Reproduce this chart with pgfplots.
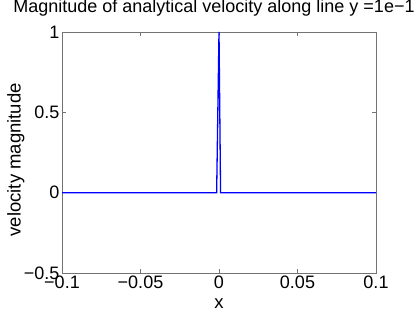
\documentclass[border=0pt]{standalone}
\usepackage{fontspec}
\setmainfont{Liberation Sans}
\usepackage{pgfplots}
\pgfplotsset{compat=1.18}
\definecolor{framegray}{gray}{0.45}

\begin{document}
\begin{tikzpicture}
\useasboundingbox (0,0) rectangle (415pt,313pt);
\begin{axis}[
    at={(62pt,40pt)}, anchor=south west,
    scale only axis,
    width=314pt, height=241pt,
    xmin=-0.1, xmax=0.1,
    ymin=-0.5, ymax=1,
    xtick={-0.1,-0.05,0,0.05,0.1},
    xticklabels={−0.1,−0.05,0,0.05,0.1},
    ytick={-0.5,0,0.5,1},
    yticklabels={−0.5,0,0.5,1},
    tick align=inside,
    major tick length=4pt,
    axis line style={framegray, line width=0.7pt},
    every tick/.style={framegray, line width=0.7pt},
    tick label style={font=\fontsize{18}{20}\selectfont},
    xticklabel style={yshift=1pt},
    yticklabel style={xshift=1pt},
    label style={font=\fontsize{18.5}{20}\selectfont},
    xlabel={x},
    ylabel={velocity magnitude},
    xlabel style={at={(axis description cs:0.5,-0.1286)}, anchor=center},
    ylabel style={at={(axis description cs:-0.147,0.47)}, anchor=center},
    title={Magnitude of analytical velocity along line y =1e−10},
    title style={font=\fontsize{18}{20}\selectfont, at={(axis description cs:0.5,1)}, anchor=base, yshift=13pt},
]
\addplot[blue, line width=1.3pt] coordinates {
(-0.1,0) (-0.0015,0) (0,1) (0.001,0) (0.1,0)
};
\end{axis}
\end{tikzpicture}
\end{document}
